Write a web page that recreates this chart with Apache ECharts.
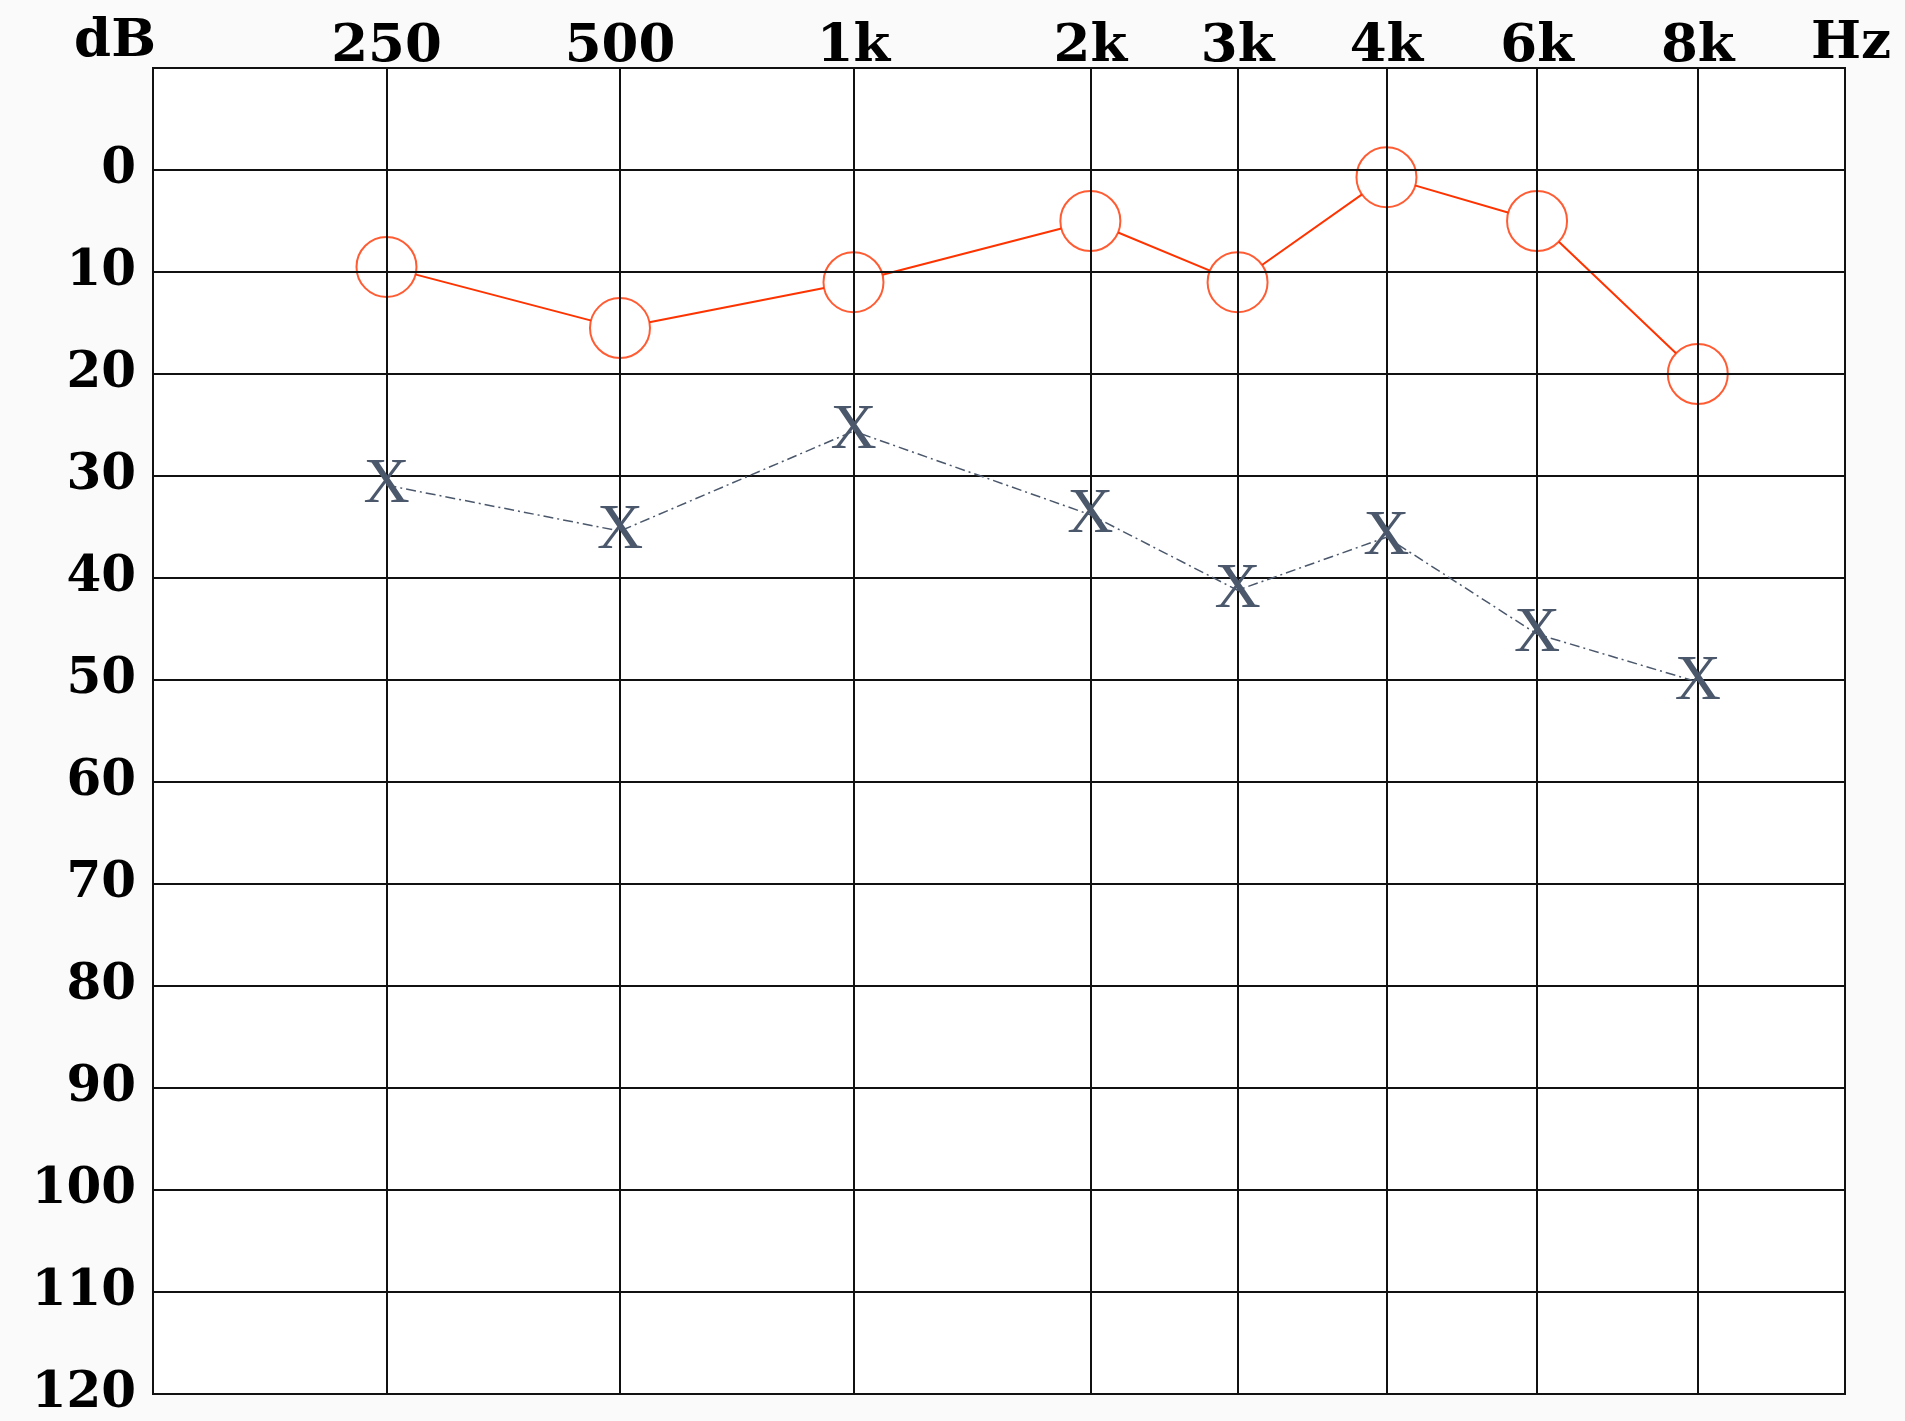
<!DOCTYPE html>
<html><head><meta charset="utf-8">
<script src="https://cdn.jsdelivr.net/npm/echarts@6/dist/echarts.min.js"></script>
<style>html,body{margin:0;padding:0;background:#fafafa}#c{width:1905px;height:1421px}</style>
</head><body><div id="c"></div>
<script>
// Frequencies (top axis) and their place on the audiogram's frequency axis (0..100)
const freqLabels = ['250', '500', '1k', '2k', '3k', '4k', '6k', '8k'];
const freqPos = [13.8, 27.6, 41.4, 55.4, 64.1, 72.9, 81.8, 91.3];
// Hearing levels in dB
const rightEarO = [9.5, 15.5, 11, 5, 11, 0.7, 5, 20];
const leftEarX = [30.9, 35.4, 25.6, 33.8, 41.2, 36, 45.5, 50.2];
// dB gridlines
const dbLines = [0, 10, 20, 30, 40, 50, 60, 70, 80, 90, 100, 110];

const LFONT = '"DejaVu Serif", "Liberation Serif", serif';
const XFONT = '"Liberation Serif", "DejaVu Serif", serif';
const RED = '#ff3300';
const SLATE = '#4b586c';

const pts = arr => arr.map((v, i) => [freqPos[i], v]);

const chart = echarts.init(document.getElementById('c'), null, {renderer: 'canvas'});
chart.setOption({
  animation: false,
  backgroundColor: '#fafafa',
  grid: {left: 153, right: 60, top: 68, bottom: 27, show: true,
         backgroundColor: '#ffffff', borderColor: '#111', borderWidth: 2},
  xAxis: {
    type: 'value', position: 'top', min: 0, max: 100,
    axisLine: {show: true, lineStyle: {color: '#111', width: 2}},
    axisTick: {show: false},
    splitLine: {show: false},
    axisLabel: {
      customValues: freqPos,
      formatter: v => { const i = freqPos.indexOf(v); return i >= 0 ? freqLabels[i] : ''; },
      fontFamily: LFONT, fontWeight: 'bold', fontSize: 53, color: '#000', margin: -6
    }
  },
  yAxis: {
    type: 'value', inverse: true, min: -10, max: 120, interval: 10,
    axisLine: {show: true, lineStyle: {color: '#111', width: 2}},
    axisTick: {show: false},
    splitLine: {show: false},
    axisLabel: {
      formatter: v => v < 0 ? '' : String(v),
      fontFamily: LFONT, fontWeight: 'bold', fontSize: 50, color: '#000', margin: 17
    }
  },
  graphic: [
    {type: 'text', x: 115, y: 42, style: {text: 'dB', font: 'bold 53px ' + LFONT, fill: '#000', align: 'center', verticalAlign: 'middle'}},
    {type: 'text', x: 1851, y: 44, style: {text: 'Hz', font: 'bold 53px ' + LFONT, fill: '#000', align: 'center', verticalAlign: 'middle'}}
  ],
  series: [
    {
      name: 'right line', type: 'line', z: 1, data: pts(rightEarO), symbol: 'none',
      lineStyle: {color: RED, width: 2}, silent: true
    },
    {
      name: 'right mask', type: 'scatter', z: 2, data: pts(rightEarO), symbol: 'circle', symbolSize: 60,
      itemStyle: {color: '#ffffff', opacity: 1}, silent: true
    },
    {
      name: 'grid', type: 'line', z: 3, data: [], silent: true,
      markLine: {
        silent: true, symbol: ['none', 'none'], label: {show: false},
        lineStyle: {color: '#111', width: 2, type: 'solid'},
        data: freqPos.map(p => ({xAxis: p})).concat(dbLines.map(d => ({yAxis: d})))
      }
    },
    {
      name: 'right O', type: 'scatter', z: 4, data: pts(rightEarO), symbol: 'circle', symbolSize: 60,
      itemStyle: {color: 'rgba(0,0,0,0)', borderColor: RED, borderWidth: 2}, silent: true
    },
    {
      name: 'left X', type: 'line', z: 5, data: pts(leftEarX), symbol: 'circle', symbolSize: 2,
      itemStyle: {color: 'rgba(0,0,0,0)'},
      lineStyle: {color: SLATE, width: 1.5, type: [10, 4, 2, 4]},
      label: {show: true, position: 'inside', formatter: 'X', fontFamily: XFONT, fontSize: 64, color: SLATE},
      silent: true
    }
  ]
});
</script></body></html>
